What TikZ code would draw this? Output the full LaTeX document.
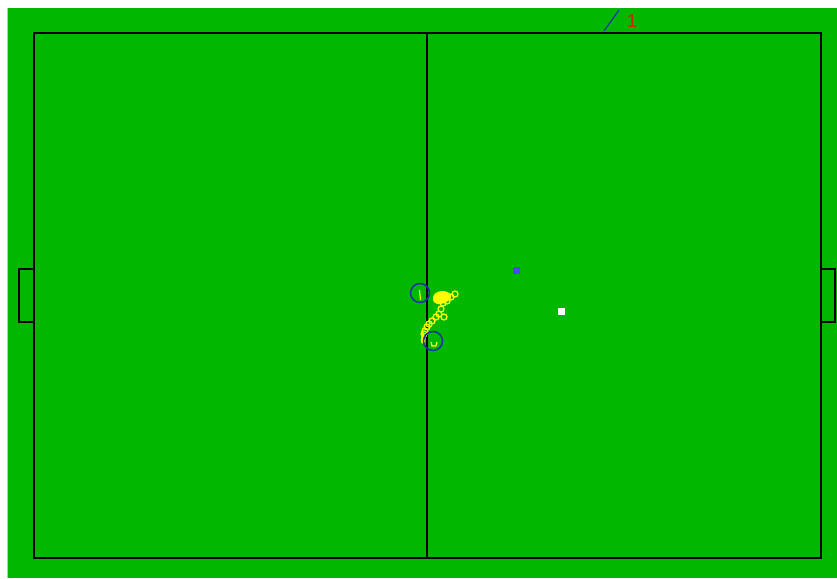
\documentclass[tikz,border=0pt]{standalone}
\usepackage{fontspec}
\setmainfont{Liberation Sans}
\usepackage{xcolor}
\definecolor{pitch}{RGB}{0,184,0}
\definecolor{teamblue}{RGB}{30,50,170}
\definecolor{markblue}{RGB}{70,70,250}
\definecolor{trail}{RGB}{255,255,0}
\definecolor{edgeblue}{RGB}{170,200,230}
\definecolor{labelred}{RGB}{200,40,0}

\begin{document}
\begin{tikzpicture}[
        x=0.03cm, y=-0.03cm,
        fieldline/.style={
            draw=black,
            line width=1.3pt
        },
        player/.style={
            draw=teamblue,
            line width=1.3pt
        },
        trailmark/.style={
            draw=trail,
            line width=1.1pt
        },
        marker/.style={
            fill=#1,
            draw=none
        }
    ]

        % background and pitch
        \useasboundingbox (0,0) rectangle (837,578);
        \fill[white] (0,0) rectangle (837,578);
        \fill[pitch] (8,8) rectangle (837,578);
        \draw[edgeblue, line width=0.8pt] (7.5,8) -- (7.5,578);

        % field lines
        \draw[fieldline] (34,33) rectangle (821,558);
        \draw[fieldline] (427,33) -- (427,558);
        \draw[fieldline] (34,269) -- (19,269) -- (19,322) -- (34,322);
        \draw[fieldline] (821,269) -- (835,269) -- (835,322) -- (821,322);

        % ball trail
        \foreach \px/\py in {455/294, 451/297, 447/301, 443/303, 441/309, 444/317,
                             439/314, 436/317, 432/321, 429/324, 427/327, 425/331, 424/334}
            \draw[trailmark] (\px,\py) circle (3);
        \fill[trail] (433,297) .. controls (435,290) and (447,289) .. (451,295)
                     .. controls (453,299) and (446,303) .. (441,304)
                     .. controls (436,305) and (432,302) .. (433,297);
        \fill[trail] (422,333) .. controls (425,334) and (426,339) .. (425,343)
                     .. controls (423,345) and (420,343) .. (421,339) -- cycle;

        % players
        \coordinate (p1) at (420,293);
        \coordinate (p2) at (433,341);
        \draw[player] (p1) circle (9.5);
        \draw[player] (p2) circle (9.5);
        \draw[trail, line width=1pt] (419.5,290) -- (420.5,300);
        \draw[trail, line width=1pt] (431,342) -- (432,346) -- (436,346) -- (437,342);

        % markers
        \fill[marker=markblue] (513,267) rectangle (520,274);
        \fill[marker=white] (558,308) rectangle (565,315);

        % label
        \node[text=labelred, font=\fontsize{16}{18}\selectfont] (num) at (632,21) {1};
        \coordinate (tickA) at (604,31);
        \coordinate (tickB) at (619,10);
        \draw[teamblue, line width=1pt] (tickA) -- (tickB);

    \end{tikzpicture}
\end{document}
